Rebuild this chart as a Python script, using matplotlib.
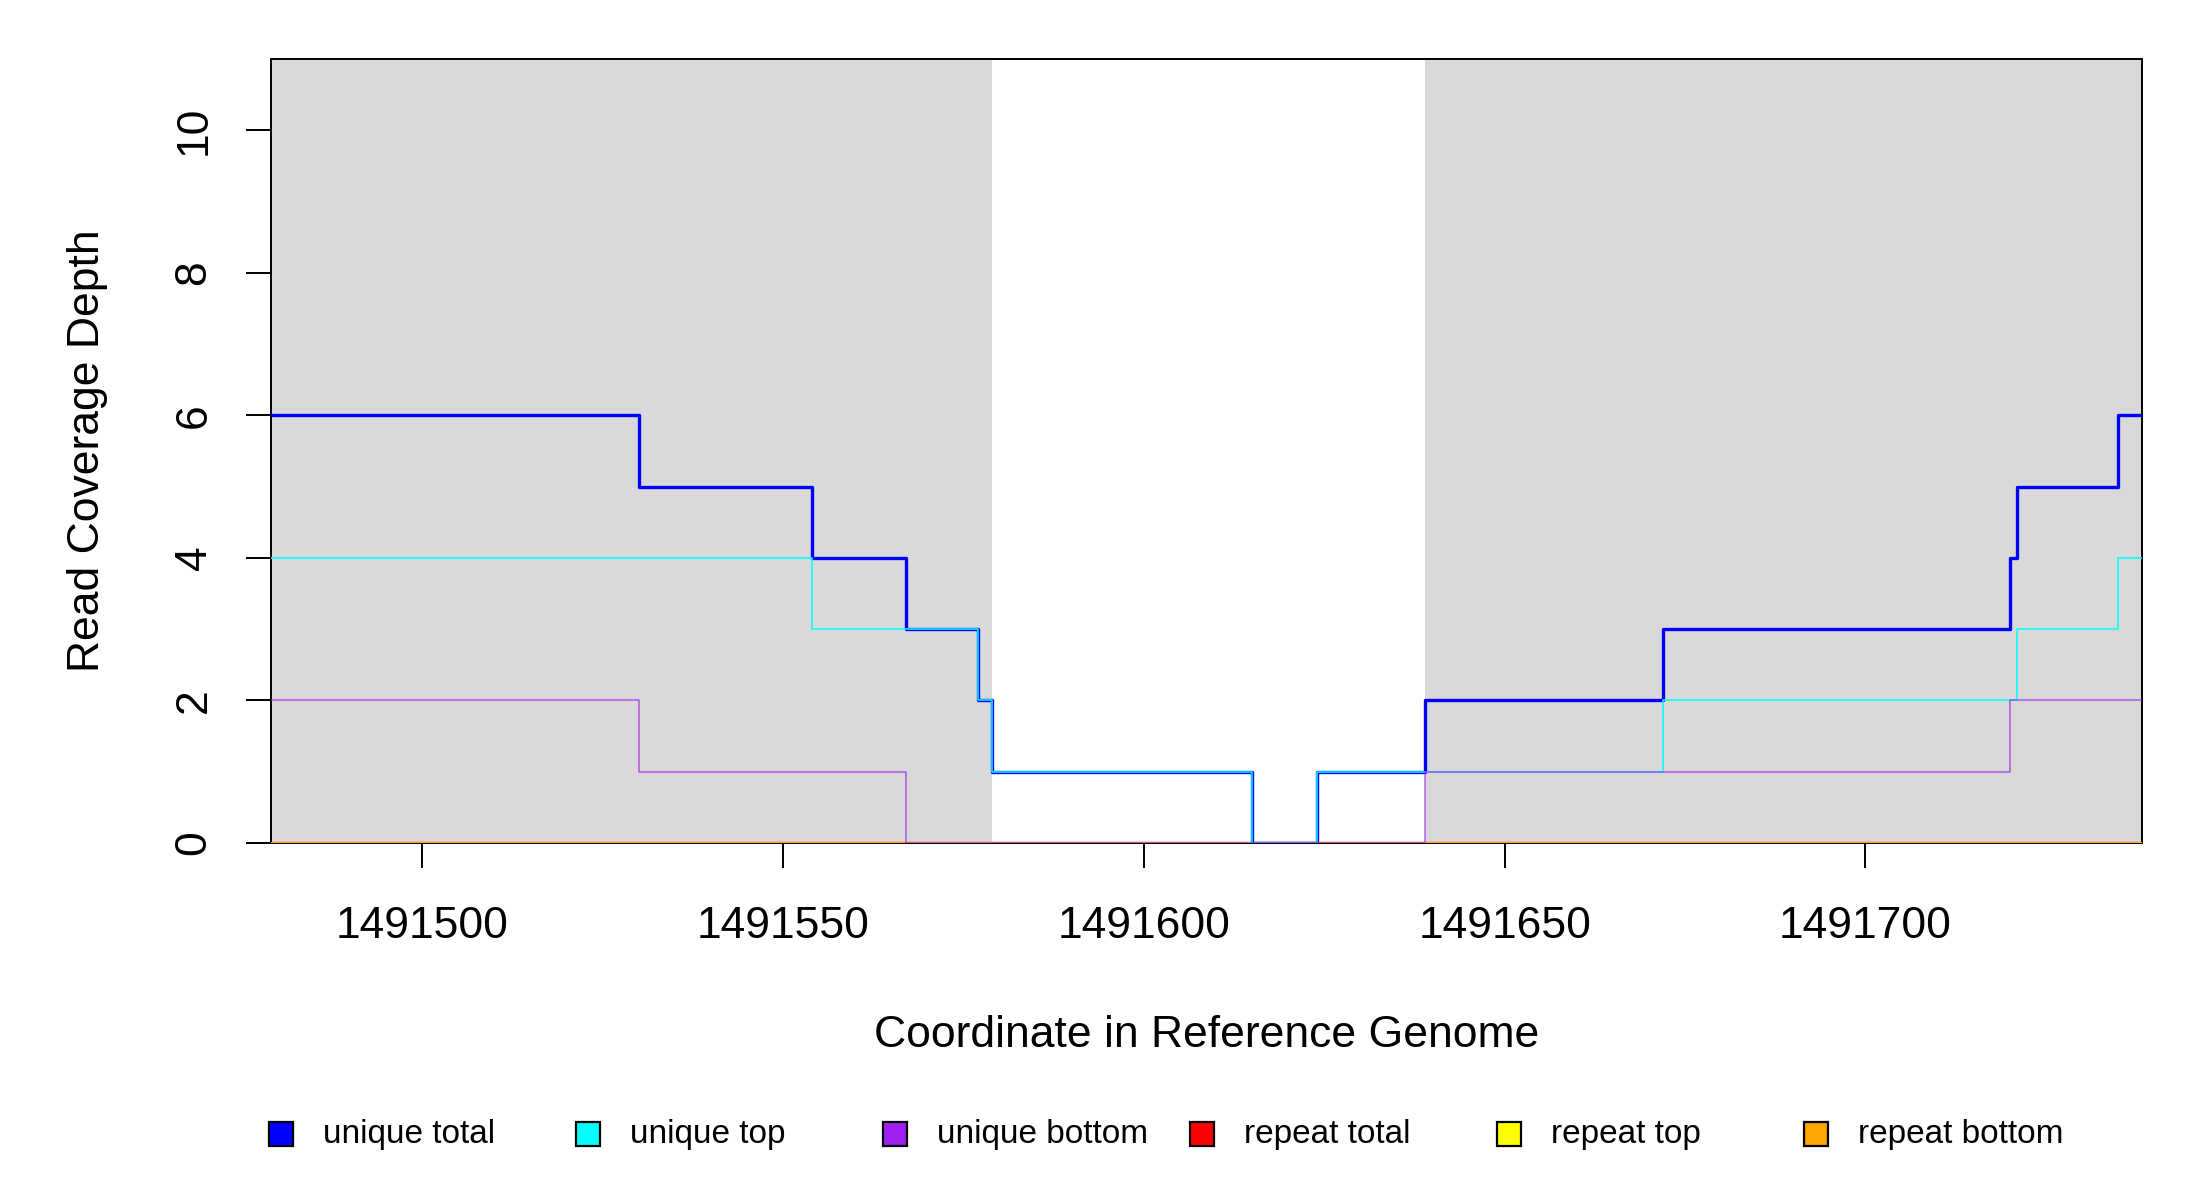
'''
Read coverage depth around a region of the reference genome
'''

## import packages
import matplotlib
matplotlib.use('Agg')
import matplotlib.pyplot as plt
from matplotlib.patches import Rectangle

plt.rcParams['font.family'] = ['Liberation Sans', 'DejaVu Sans']

## data: step breakpoints (value holds from x[i] to x[i+1])
x_range = [1491479.1, 1491738.3]
shaded = [(1491479.1, 1491579), (1491639, 1491738.3)]

ut_x = [1491479, 1491530, 1491554, 1491567, 1491577, 1491579, 1491615, 1491624, 1491639, 1491672, 1491720, 1491721, 1491735, 1491739]
ut_y = [6, 5, 4, 3, 2, 1, 0, 1, 2, 3, 4, 5, 6, 6]

top_x = [1491479, 1491554, 1491577, 1491579, 1491615, 1491624, 1491672, 1491721, 1491735, 1491739]
top_y = [4, 3, 2, 1, 0, 1, 2, 3, 4, 4]

bot_x = [1491479, 1491530, 1491567, 1491639, 1491720, 1491739]
bot_y = [2, 1, 0, 1, 2, 2]

rep_x = [1491479, 1491739]
rep_y = [0, 0]

labels = ['unique total', 'unique top', 'unique bottom', 'repeat total', 'repeat top', 'repeat bottom']
colours = ['#0000FF', '#00FFFF', '#A020F0', '#FF0000', '#FFFF00', '#FFA500']

xticks = [1491500, 1491550, 1491600, 1491650, 1491700]
yticks = [0, 2, 4, 6, 8, 10]

## plot
fig = plt.figure(figsize=(11, 6), dpi=200)
ax = fig.add_axes([0.1234, 0.2975, 0.9735 - 0.1234, 0.9508 - 0.2975])

for a, b in shaded:
    ax.axvspan(a, b, color='#D9D9D9', lw=0, zorder=0)

ax.step(rep_x, rep_y, where='post', color=colours[3], lw=1.2, zorder=3)
ax.step(rep_x, rep_y, where='post', color=colours[4], lw=1.0, zorder=3)
ax.step(rep_x, rep_y, where='post', color=colours[5], lw=1.0, zorder=3)
ax.step(ut_x, ut_y, where='post', color=colours[0], lw=1.2, zorder=4)
ax.step(top_x, top_y, where='post', color=colours[1], lw=0.55, zorder=5)
ax.step(bot_x, bot_y, where='post', color=colours[2], lw=0.55, alpha=0.7, zorder=5)

ax.set_xlim(x_range)
ax.set_ylim(0, 11)
ax.set_xticks(xticks)
ax.set_yticks(yticks)
ax.ticklabel_format(useOffset=False, style='plain', axis='x')
ax.tick_params(length=9, width=0.7, labelsize=16)
ax.tick_params(axis='x', pad=13.5)
ax.tick_params(axis='y', pad=11.5)
for t in ax.get_yticklabels():
    t.set_rotation(90)
    t.set_va('center')
for s in ax.spines.values():
    s.set_linewidth(0.7)
    s.set_zorder(2)

ax.set_xlabel('Coordinate in Reference Genome', fontsize=16)
ax.set_ylabel('Read Coverage Depth', fontsize=16)
ax.xaxis.set_label_coords(0.5, -0.246)
ax.xaxis.label.set_va('center')
ax.yaxis.set_label_coords(-0.0986, 0.5)
ax.yaxis.label.set_va('center')

## legend along the bottom, evenly spaced like base R
sq_w, sq_h = 24 / 2200, 24 / 1200
for i, (lab, col) in enumerate(zip(labels, colours)):
    cx = (281 + i * 307) / 2200
    cy = 1 - 1134 / 1200
    fig.patches.append(Rectangle((cx - sq_w / 2, cy - sq_h / 2), sq_w, sq_h,
                                 facecolor=col, edgecolor='black', lw=0.8,
                                 transform=fig.transFigure, figure=fig))
    fig.text(cx + 42 / 2200, cy, lab, fontsize=12, va='center', ha='left')

fig.savefig('out.png')
